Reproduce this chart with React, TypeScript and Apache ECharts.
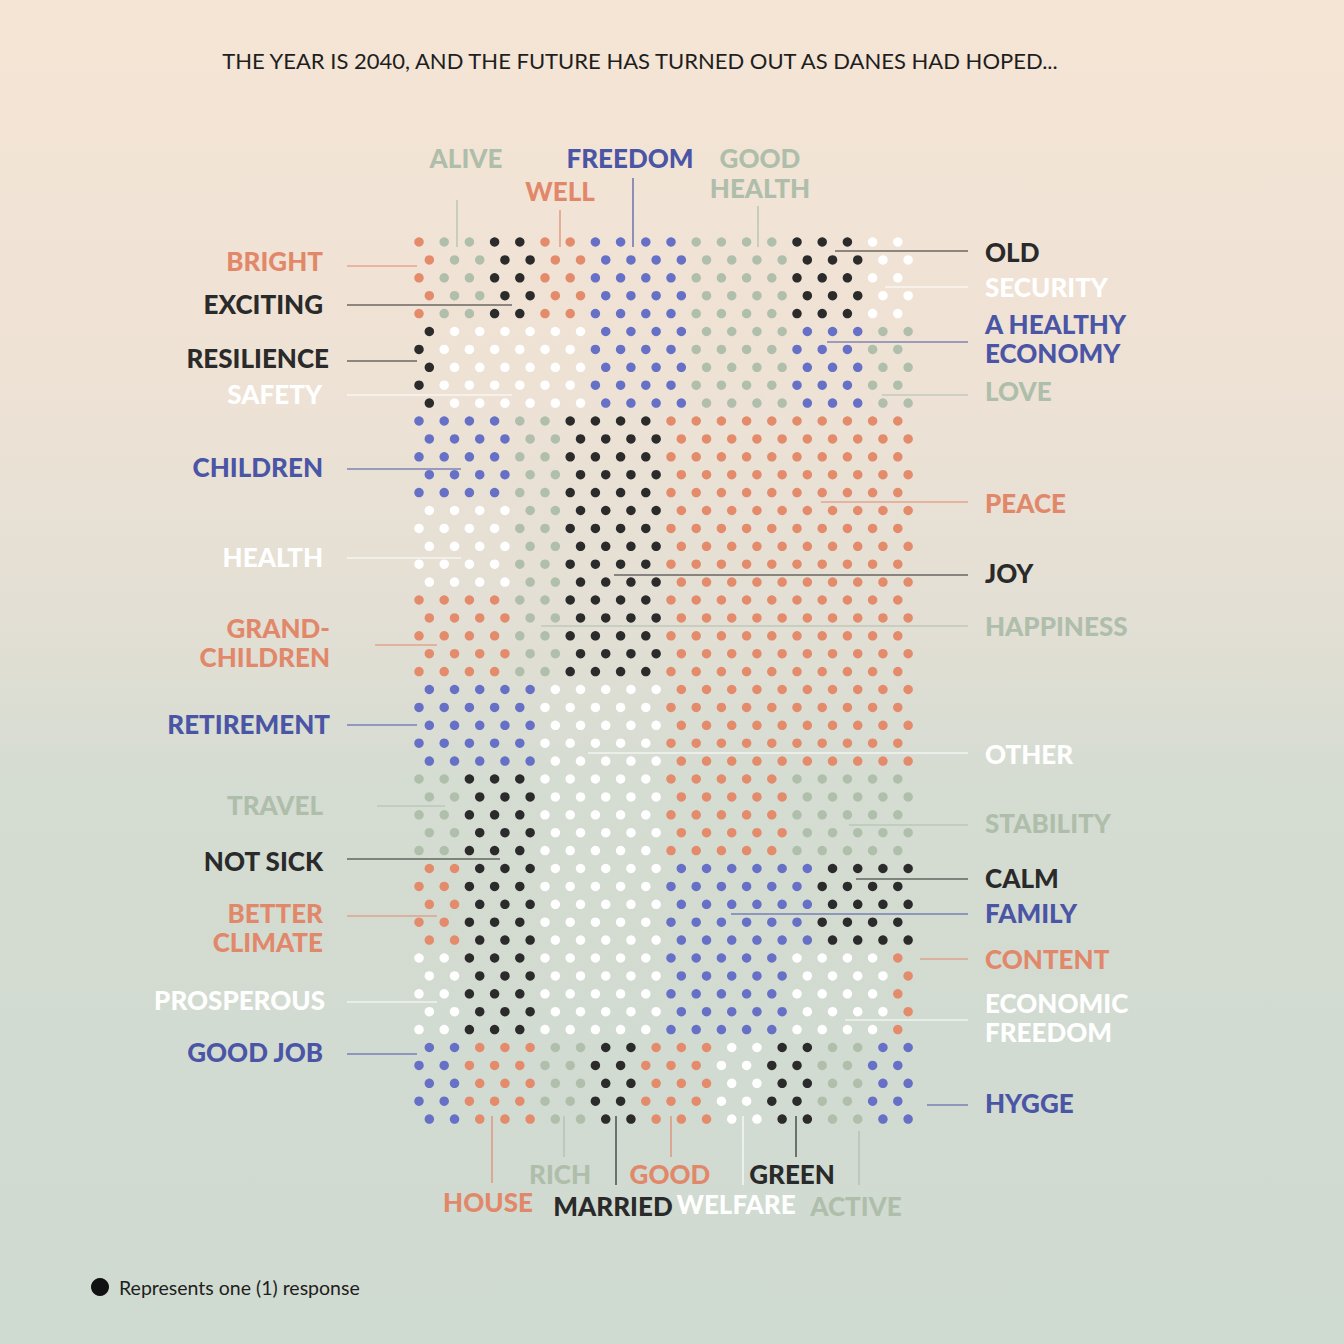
import { useEffect, useRef } from 'react';
import * as echarts from 'echarts';

// each band is 5 rows of dots, one letter per column (20 columns)
// O orange, G sage, K black, W white, U blue
const bandColumns = [
    'OGGKKOOUUUUGGGGKKKWW',
    'KWWWWWWUUUUGGGGUUUGG',
    'UUUUGGKKKKOOOOOOOOOO',
    'WWWWGGKKKKOOOOOOOOOO',
    'OOOOGGKKKKOOOOOOOOOO',
    'UUUUUWWWWWOOOOOOOOOO',
    'GGKKKWWWWWOOOOOGGGGG',
    'OOKKKWWWWWUUUUUUKKKK',
    'WWKKKWWWWWUUUUUWWWWO',
    'UUOOOGGKKOOOWWKKGGUU',
];
const ROWS_PER_BAND = 5;
const ROW_SHIFT = 0.41; // every second row is pushed right

const colorKeys = ['O', 'G', 'K', 'W', 'U'];
const dotColors: Record<string, string> = {
    O: '#e38b6b',
    G: '#afbfab',
    K: '#2b2b2b',
    W: '#ffffff',
    U: '#6670c6',
};
const inkColors: Record<string, string> = {
    O: '#e2886a',
    G: '#aebeab',
    K: '#2a2a2a',
    W: '#ffffff',
    U: '#4b55a6',
};

const leftLabels = ['BRIGHT', 'EXCITING', 'RESILIENCE', 'SAFETY', 'CHILDREN', 'HEALTH', 'GRAND-\nCHILDREN', 'RETIREMENT', 'TRAVEL', 'NOT SICK', 'BETTER\nCLIMATE', 'PROSPEROUS', 'GOOD JOB'];
const leftKeys = ['O', 'K', 'K', 'W', 'U', 'W', 'O', 'U', 'G', 'K', 'O', 'W', 'U'];
const rightLabels = ['OLD', 'SECURITY', 'A HEALTHY\nECONOMY', 'LOVE', 'PEACE', 'JOY', 'HAPPINESS', 'OTHER', 'STABILITY', 'CALM', 'FAMILY', 'CONTENT', 'ECONOMIC\nFREEDOM', 'HYGGE'];
const rightKeys = ['K', 'W', 'U', 'G', 'O', 'K', 'G', 'W', 'G', 'K', 'U', 'O', 'W', 'U'];
const topLabels = ['ALIVE', 'WELL', 'FREEDOM', 'GOOD\nHEALTH'];
const topKeys = ['G', 'O', 'U', 'G'];
const bottomLabels = ['HOUSE', 'RICH', 'MARRIED', 'GOOD', 'WELFARE', 'GREEN', 'ACTIVE'];
const bottomKeys = ['O', 'G', 'K', 'O', 'W', 'K', 'G'];

// layout of the annotations (pixels)
const leftLayout = [
    { tx: 323, ty: [261], ly: 266, lx: 417 },
    { tx: 323, ty: [304], ly: 305, lx: 512 },
    { tx: 329, ty: [358], ly: 361, lx: 417 },
    { tx: 322, ty: [394], ly: 395, lx: 512 },
    { tx: 323, ty: [467], ly: 469, lx: 461 },
    { tx: 323, ty: [557], ly: 558, lx: 461 },
    { tx: 330, ty: [627.5, 656.5], ly: 645, lx: 437, l0: 375 },
    { tx: 330, ty: [724], ly: 725, lx: 417 },
    { tx: 323, ty: [805], ly: 806, lx: 445, l0: 377 },
    { tx: 323, ty: [861], ly: 859, lx: 500 },
    { tx: 323, ty: [913, 942], ly: 916, lx: 437 },
    { tx: 325, ty: [1000], ly: 1002, lx: 437 },
    { tx: 323, ty: [1052], ly: 1054, lx: 417 },
];
const rightLayout = [
    { ty: [252], ly: 251, lx: 835 },
    { ty: [287], ly: 287, lx: 885 },
    { ty: [323.5, 352.5], ly: 342, lx: 827 },
    { ty: [391], ly: 395, lx: 882 },
    { ty: [503], ly: 502, lx: 821 },
    { ty: [573], ly: 575, lx: 614 },
    { ty: [626], ly: 626, lx: 541 },
    { ty: [754], ly: 753, lx: 588 },
    { ty: [823], ly: 825, lx: 849 },
    { ty: [878], ly: 879, lx: 856 },
    { ty: [913], ly: 914, lx: 731 },
    { ty: [959], ly: 959, lx: 920 },
    { ty: [1002.5, 1031.5], ly: 1020, lx: 845 },
    { ty: [1103], ly: 1105, lx: 927 },
];
const topLayout = [
    { tx: 466, ty: [158], lx: 457, ly: 200 },
    { tx: 560, ty: [191], lx: 560, ly: 210 },
    { tx: 630, ty: [158], lx: 633, ly: 178 },
    { tx: 760, ty: [158, 188], lx: 758, ly: 206 },
];
const bottomLayout = [
    { tx: 488, ty: [1202], lx: 492, ly: 1183 },
    { tx: 560, ty: [1174], lx: 564, ly: 1157 },
    { tx: 613, ty: [1206], lx: 616, ly: 1185 },
    { tx: 670, ty: [1174], lx: 671, ly: 1157 },
    { tx: 736, ty: [1204], lx: 743, ly: 1185 },
    { tx: 792, ty: [1174], lx: 796, ly: 1157 },
    { tx: 856, ty: [1206], lx: 859, ly: 1185, l0: 1131 },
];

const LABEL_FONT = { fontFamily: 'Lato', fontWeight: 900, fontSize: 26 };

// one text element per label; two-line labels share it
function label(text: string, x: number, ty: number[], key: string, align: string) {
    const twoLines = ty.length > 1;
    return {
        type: 'text',
        x,
        y: twoLines ? (ty[0] + ty[1]) / 2 : ty[0],
        silent: true,
        style: {
            text,
            fill: inkColors[key],
            textAlign: align,
            textVerticalAlign: 'middle',
            lineHeight: twoLines ? ty[1] - ty[0] : 30,
            ...LABEL_FONT,
        },
    };
}

function leader(x1: number, y1: number, x2: number, y2: number, key: string) {
    return {
        type: 'line',
        silent: true,
        shape: { x1, y1, x2, y2 },
        style: { stroke: key === 'W' ? '#ffffff' : inkColors[key], lineWidth: 1.2 },
    };
}

function buildGraphics() {
    const els: any[] = [];
    leftLabels.forEach((t, i) => {
        const l = leftLayout[i];
        els.push(label(t, l.tx, l.ty, leftKeys[i], 'right'));
        els.push(leader(l.l0 ?? 347, l.ly, l.lx, l.ly, leftKeys[i]));
    });
    rightLabels.forEach((t, i) => {
        const l = rightLayout[i];
        els.push(label(t, 985, l.ty, rightKeys[i], 'left'));
        els.push(leader(l.lx, l.ly, 968, l.ly, rightKeys[i]));
    });
    topLabels.forEach((t, i) => {
        const l = topLayout[i];
        els.push(label(t, l.tx, l.ty, topKeys[i], 'center'));
        els.push(leader(l.lx, l.ly, l.lx, 247, topKeys[i]));
    });
    bottomLabels.forEach((t, i) => {
        const l = bottomLayout[i];
        els.push(label(t, l.tx, l.ty, bottomKeys[i], 'center'));
        els.push(leader(l.lx, l.l0 ?? 1116, l.lx, l.ly, bottomKeys[i]));
    });

    els.push({
        type: 'text',
        x: 640,
        y: 60,
        silent: true,
        style: {
            text: 'THE YEAR IS 2040, AND THE FUTURE HAS TURNED OUT AS DANES HAD HOPED...',
            fill: '#1e1e1e',
            textAlign: 'center',
            textVerticalAlign: 'middle',
            fontFamily: 'Lato',
            fontSize: 22,
        },
    });
    els.push({ type: 'circle', shape: { cx: 100, cy: 1287, r: 9 }, style: { fill: '#111111' }, silent: true });
    els.push({
        type: 'text',
        x: 119,
        y: 1287,
        silent: true,
        style: {
            text: 'Represents one (1) response',
            fill: '#1e1e1e',
            textAlign: 'left',
            textVerticalAlign: 'middle',
            fontFamily: 'Lato',
            fontSize: 19.5,
        },
    });
    return els;
}

function buildSeries() {
    const points: Record<string, number[][]> = {};
    colorKeys.forEach((k) => (points[k] = []));
    bandColumns.forEach((band, b) => {
        for (let r = 0; r < ROWS_PER_BAND; r++) {
            const row = b * ROWS_PER_BAND + r;
            band.split('').forEach((k, col) => {
                points[k].push([col + (row % 2 ? ROW_SHIFT : 0), row]);
            });
        }
    });
    return colorKeys.map((k) => ({
        type: 'scatter',
        name: k,
        symbol: 'circle',
        symbolSize: 9.5,
        itemStyle: { color: dotColors[k], opacity: 1 },
        silent: true,
        data: points[k],
    }));
}

export default function App() {
    const chartRef = useRef<HTMLDivElement>(null);

    useEffect(() => {
        if (!chartRef.current) return;
        const chart = echarts.init(chartRef.current, undefined, { renderer: 'svg' });

        chart.setOption({
            animation: false,
            backgroundColor: 'transparent',
            grid: { left: 393.8, top: 224.1, width: 554.4, height: 912.9 },
            xAxis: { type: 'value', min: -1, max: 21, show: false },
            yAxis: { type: 'value', min: -1, max: 50, inverse: true, show: false },
            series: buildSeries(),
            graphic: buildGraphics(),
        });

        return () => {
            chart.dispose();
        };
    }, []);

    return (
        <div
            ref={chartRef}
            style={{
                position: 'absolute',
                left: 0,
                top: 0,
                width: 1344,
                height: 1344,
                background: 'linear-gradient(to bottom, #f5e5d5 0%, #eee2d5 28%, #e3dfd4 46%, #d5dcd2 58%, #cfdad0 100%)',
            }}
        />
    );
}
